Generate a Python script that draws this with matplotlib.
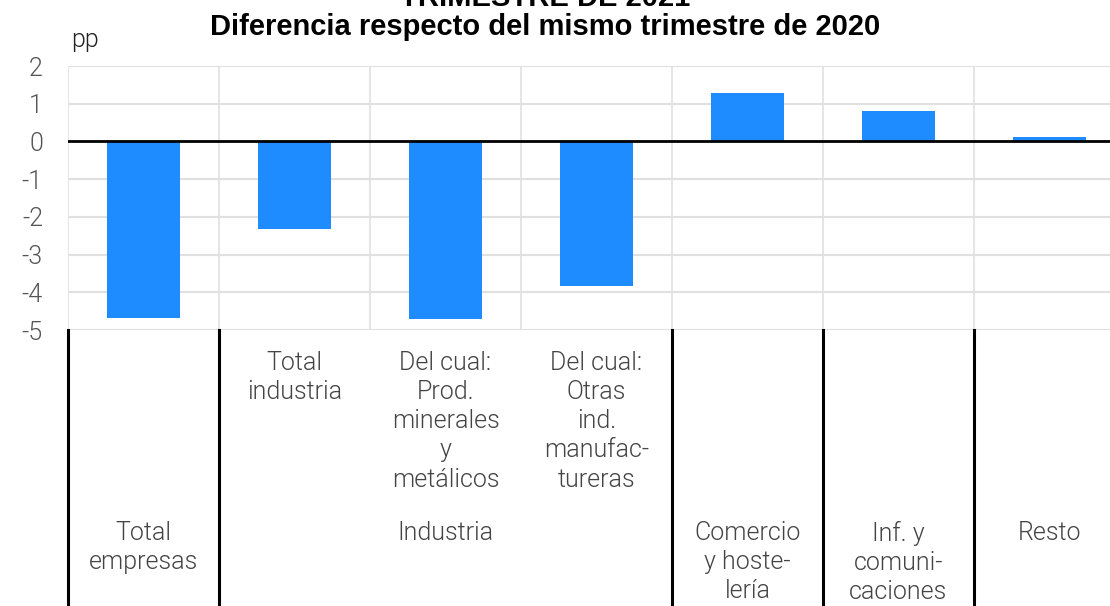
import matplotlib
matplotlib.use("Agg")
import matplotlib.pyplot as plt

# ---- data ----
categories = ["Total empresas", "Total industria", "Prod. minerales y metálicos",
              "Otras ind. manufactureras", "Comercio y hostelería",
              "Inf. y comunicaciones", "Resto"]
values = [-4.68, -2.31, -4.71, -3.83, 1.29, 0.82, 0.11]
inner_labels = ["", "Total\nindustria", "Del cual:\nProd.\nminerales\ny\nmetálicos",
                "Del cual:\nOtras\nind.\nmanufac-\ntureras", "", "", ""]
outer_labels = ["Total\nempresas", "Industria", "Comercio\ny hoste-\nlería",
                "Inf. y\ncomuni-\ncaciones", "Resto"]
outer_spans = [(0, 0), (1, 3), (4, 4), (5, 5), (6, 6)]
yticks = [-5, -4, -3, -2, -1, 0, 1, 2]
title_line1 = "TRIMESTRE DE 2021"
title_line2 = "Diferencia respecto del mismo trimestre de 2020"
unit_label = "pp"

LIGHT = dict(family=["Roboto", "DejaVu Sans"], weight=300)
TXT = "#444444"

W, H = 1110, 606
fig = plt.figure(figsize=(W / 100, H / 100), dpi=100)
left, right, top, bottom = 68, 1125, 66, 330
ax = fig.add_axes([left / W, 1 - bottom / H, (right - left) / W, (bottom - top) / H])

x = list(range(len(categories)))
ax.bar(x, values, width=0.49, color="#1E8CFF", zorder=3)

ax.set_xlim(-0.5, len(categories) - 0.5)
ax.set_ylim(-5, 2)
ax.set_yticks(yticks)
ax.set_yticklabels([str(t) for t in yticks], color="#555555", fontsize=18, **LIGHT)
ax.tick_params(axis="y", length=0, pad=18)
ax.set_xticks([])

# gridlines
for t in yticks:
    ax.axhline(t, color="#e0e0e0", lw=1.5, zorder=1)
for b in [i - 0.5 for i in range(len(categories) + 1)]:
    ax.axvline(b, color="#e0e0e0", lw=1.2, zorder=1)
ax.axhline(0, color="black", lw=2, zorder=4)
for s in ax.spines.values():
    s.set_visible(False)

trans = ax.get_xaxis_transform()
# inner labels
for xi, lab in zip(x, inner_labels):
    if lab:
        ax.text(xi, (bottom - 351) / (bottom - top), lab, transform=trans,
                ha="center", va="top", fontsize=18, color=TXT,
                linespacing=1.27, clip_on=False, **LIGHT)
# outer labels
for (a, b), lab in zip(outer_spans, outer_labels):
    ax.text((a + b) / 2, (bottom - 521) / (bottom - top), lab, transform=trans,
            ha="center", va="top", fontsize=18, color=TXT,
            linespacing=1.27, clip_on=False, **LIGHT)
# group separators in label area
bounds = sorted({a - 0.5 for a, b in outer_spans} | {b + 0.5 for a, b in outer_spans})
ybot = (bottom - H) / (bottom - top)
for bd in bounds:
    ax.plot([bd, bd], [0, ybot], transform=trans, color="black", lw=2.2,
            clip_on=False, zorder=5)

# titles
fig.text(545 / W, 1 - 6 / H, title_line1, ha="center", va="baseline",
         fontsize=21, fontweight="bold", family="Liberation Sans", color="black")
fig.text(545 / W, 1 - 35 / H, title_line2, ha="center", va="baseline",
         fontsize=21, fontweight="bold", family="Liberation Sans", color="black")
fig.text(71 / W, 1 - 47 / H, unit_label, ha="left", va="baseline",
         fontsize=18, color="#222222", **LIGHT)

fig.savefig("out.png", dpi=100, facecolor="white")
